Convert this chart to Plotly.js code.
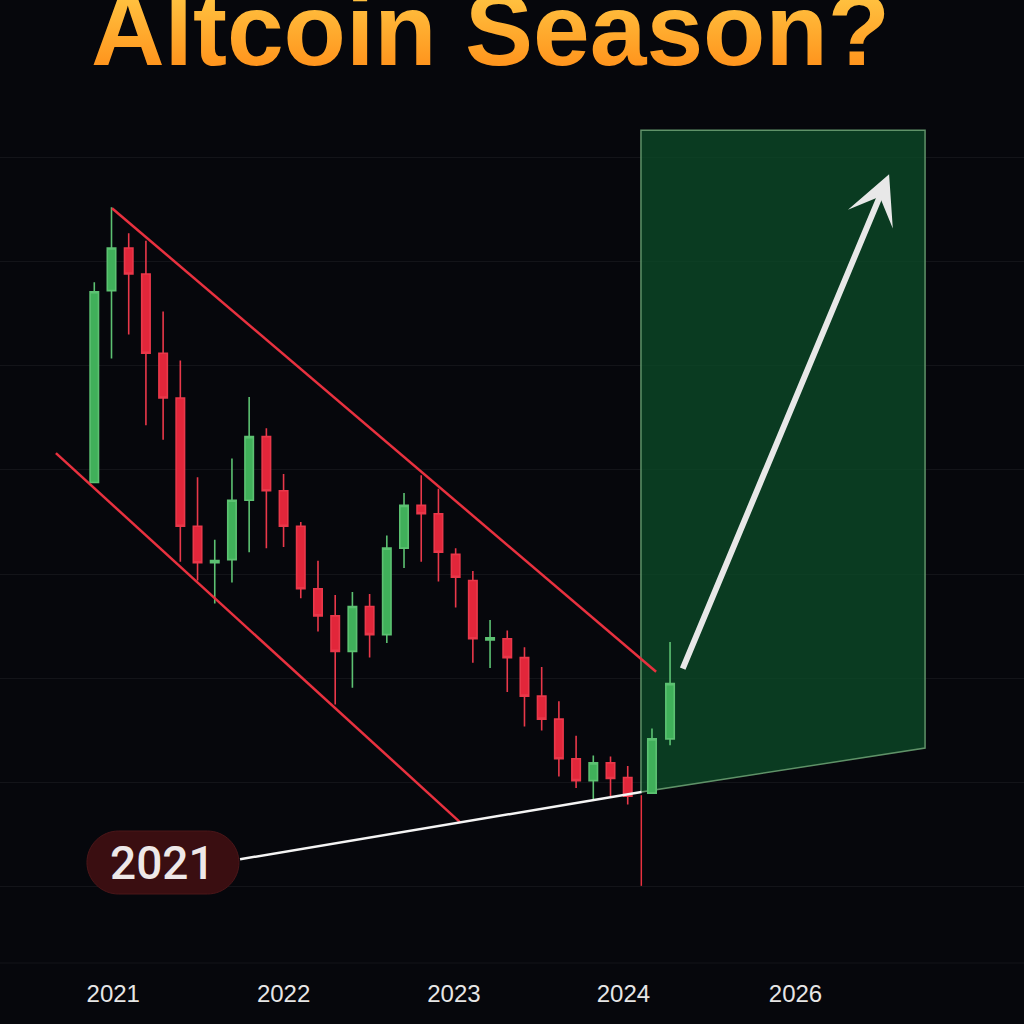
<!DOCTYPE html>
<html>
<head>
<meta charset="utf-8">
<script src="https://cdn.plot.ly/plotly-3.0.1.min.js"></script>
<style>
  html, body { margin: 0; padding: 0; background: #06070c; }
  #chart { width: 1024px; height: 1024px; }
</style>
</head>
<body>
<div id="chart"></div>
<script>
// ---------- data ----------
const candleX = [1,2,3,4,5,6,7,8,9,10,11,12,13,14,15,16,17,18,19,20,21,22,23,24,25,26,27,28,29,30,31,32,33.41,34.46];
const candleOpen  = [48.8,67.2,71.3,68.8,61.2,56.9,44.6,41.1,41.4,47.1,53.2,48.0,44.6,38.6,36.0,32.6,36.9,34.2,42.5,46.6,45.8,41.9,39.4,33.7,33.8,32.0,28.3,26.1,22.3,20.2,21.9,20.5,19.0,24.2];
const candleHigh  = [68.0,75.2,72.7,72.0,65.2,60.5,49.3,43.3,51.1,57.0,54.0,49.6,45.0,41.3,38.0,38.3,38.1,43.7,47.8,49.5,48.2,42.5,40.3,35.6,34.6,33.0,31.1,27.8,24.5,22.6,22.5,21.6,25.2,33.5];
const candleLow   = [48.8,60.7,63.0,54.3,52.9,41.2,39.4,37.2,39.2,42.1,42.5,42.6,37.7,34.5,27.5,29.1,32.0,33.4,40.6,41.2,39.3,36.8,31.5,31.0,28.7,25.4,25.0,20.6,19.5,18.4,18.7,17.9,19.0,23.6];
const candleClose = [67.1,71.3,68.8,61.2,56.9,44.6,41.1,41.3,47.1,53.2,48.0,44.6,38.6,36.0,32.6,36.9,34.2,42.5,46.6,45.8,42.1,39.7,33.8,33.9,32.0,28.3,26.1,22.3,20.2,21.9,20.4,18.7,24.2,29.5];

// spike wick at the breakout point
const spikeX = [32.79, 32.79];
const spikeY = [18.8, 10.1];

// descending channel
const channelUpperX = [2.03, 33.65];
const channelUpperY = [75.11, 30.64];
const channelLowerX = [-1.23, 22.25];
const channelLowerY = [51.61, 16.22];

// long-term support (white) trend line
const supportX = [9.47, 32.8];
const supportY = [12.65, 19.1];

// projected "altcoin season" zone
const zoneX = [32.77, 49.28, 49.28, 32.77];
const zoneY = [82.59, 82.59, 23.32, 19.10];

// projection arrow (tail -> tip)
const arrowTail = [35.16, 30.8];
const arrowTip  = [47.19, 78.37];

// x tick labels
const tickVals = [2.1, 12.0, 21.9, 31.75, 41.75];
const tickText = ['2021', '2022', '2023', '2024', '2026'];

// label
const labelText = '2021';
const labelPos = [4.99, 12.34];

const titleText = 'Altcoin Season?';

// ---------- traces ----------
const traces = [
  {
    type: 'scatter', mode: 'lines', x: channelUpperX, y: channelUpperY,
    line: { color: '#e8313f', width: 2.5 }, hoverinfo: 'skip'
  },
  {
    type: 'scatter', mode: 'lines', x: channelLowerX, y: channelLowerY,
    line: { color: '#e8313f', width: 2.5 }, hoverinfo: 'skip'
  },
  {
    type: 'scatter', mode: 'lines', x: supportX, y: supportY,
    line: { color: '#f4f4f4', width: 2.5 }, hoverinfo: 'skip'
  },
  {
    type: 'scatter', mode: 'lines', x: spikeX, y: spikeY,
    line: { color: '#e8313f', width: 1.5 }, hoverinfo: 'skip'
  },
  {
    type: 'candlestick', x: candleX,
    open: candleOpen, high: candleHigh, low: candleLow, close: candleClose,
    increasing: { fillcolor: '#40b05a', line: { color: '#5cc172', width: 1.6 } },
    decreasing: { fillcolor: '#e2263a', line: { color: '#e9384a', width: 1.6 } },
    whiskerwidth: 0, hoverinfo: 'skip'
  }
];

const zonePath = zoneX.map(function (x, i) { return (i === 0 ? 'M ' : 'L ') + x + ',' + zoneY[i]; }).join(' ') + ' Z';

const pill = 'M -44.5,-31.5 L 44.5,-31.5 C 61.9,-31.5 76,-17.4 76,0 C 76,17.4 61.9,31.5 44.5,31.5 ' +
             'L -44.5,31.5 C -61.9,31.5 -76,17.4 -76,0 C -76,-17.4 -61.9,-31.5 -44.5,-31.5 Z';

const layout = {
  width: 1024, height: 1024,
  paper_bgcolor: '#06070c', plot_bgcolor: '#06070c',
  margin: { l: 0, r: 0, t: 53, b: 61, pad: 0 },
  showlegend: false,
  title: {
    text: titleText,
    font: { family: 'Liberation Sans, Arial, sans-serif', size: 102, weight: 700, color: '#ffa42a' },
    x: 0.479, xanchor: 'center', xref: 'container',
    y: 0.9712, yanchor: 'middle', yref: 'container'
  },
  xaxis: {
    range: [-4.48, 55.03],
    rangeslider: { visible: false },
    showgrid: false, zeroline: false, showline: false,
    tickmode: 'array', tickvals: tickVals, ticktext: tickText,
    ticks: '', ticklabelstandoff: 14,
    tickfont: { family: 'Liberation Sans, Arial, sans-serif', size: 24, color: '#e6e6e6' },
    fixedrange: true
  },
  yaxis: {
    range: [2.7, 90],
    showticklabels: false, ticks: '',
    tickmode: 'linear', tick0: 0, dtick: 10,
    gridcolor: 'rgba(255,255,255,0.055)', gridwidth: 1,
    zeroline: false, showline: false, fixedrange: true
  },
  shapes: [
    {
      type: 'path', xref: 'x', yref: 'y', path: zonePath, layer: 'between',
      fillcolor: 'rgba(12,74,40,0.78)', line: { color: '#5f9268', width: 1.5 }
    },
    {
      type: 'line', xref: 'paper', yref: 'paper', x0: 0, x1: 1, y0: 0, y1: 0,
      line: { color: 'rgba(255,255,255,0.055)', width: 1 }
    },
    {
      type: 'path', xref: 'x', yref: 'y', xsizemode: 'pixel', ysizemode: 'pixel',
      xanchor: labelPos[0], yanchor: labelPos[1], path: pill,
      fillcolor: '#3a0e11', line: { color: '#4b1619', width: 1 }
    }
  ],
  annotations: [
    {
      x: arrowTip[0], y: arrowTip[1], xref: 'x', yref: 'y',
      ax: arrowTail[0], ay: arrowTail[1], axref: 'x', ayref: 'y',
      text: '', showarrow: true, arrowhead: 3, arrowsize: 1.35, arrowwidth: 6,
      arrowcolor: '#e8e8e8'
    },
    {
      x: labelPos[0], y: labelPos[1], xref: 'x', yref: 'y',
      text: labelText, showarrow: false,
      font: { family: 'Roboto, Liberation Sans, sans-serif', size: 46, weight: 500, color: '#eee8e8' },
      xanchor: 'center', yanchor: 'middle'
    }
  ]
};

Plotly.newPlot('chart', traces, layout, { displayModeBar: false, staticPlot: true }).then(function (gd) {
  try {
    const svg = gd.querySelector('.main-svg');
    let defs = svg.querySelector('defs');
    const ns = 'http://www.w3.org/2000/svg';
    if (!defs) { defs = document.createElementNS(ns, 'defs'); svg.insertBefore(defs, svg.firstChild); }
    const grad = document.createElementNS(ns, 'linearGradient');
    grad.setAttribute('id', 'titleGrad');
    grad.setAttribute('x1', '0'); grad.setAttribute('y1', '0');
    grad.setAttribute('x2', '0'); grad.setAttribute('y2', '1');
    [['0', '#ffd24d'], ['0.55', '#ffa82c'], ['1', '#ff8612']].forEach(function (s) {
      const st = document.createElementNS(ns, 'stop');
      st.setAttribute('offset', s[0]); st.setAttribute('stop-color', s[1]);
      grad.appendChild(st);
    });
    defs.appendChild(grad);
    const t = gd.querySelector('.gtitle');
    if (t) { t.style.fill = 'url(#titleGrad)'; }
  } catch (e) {}
});
</script>
</body>
</html>
